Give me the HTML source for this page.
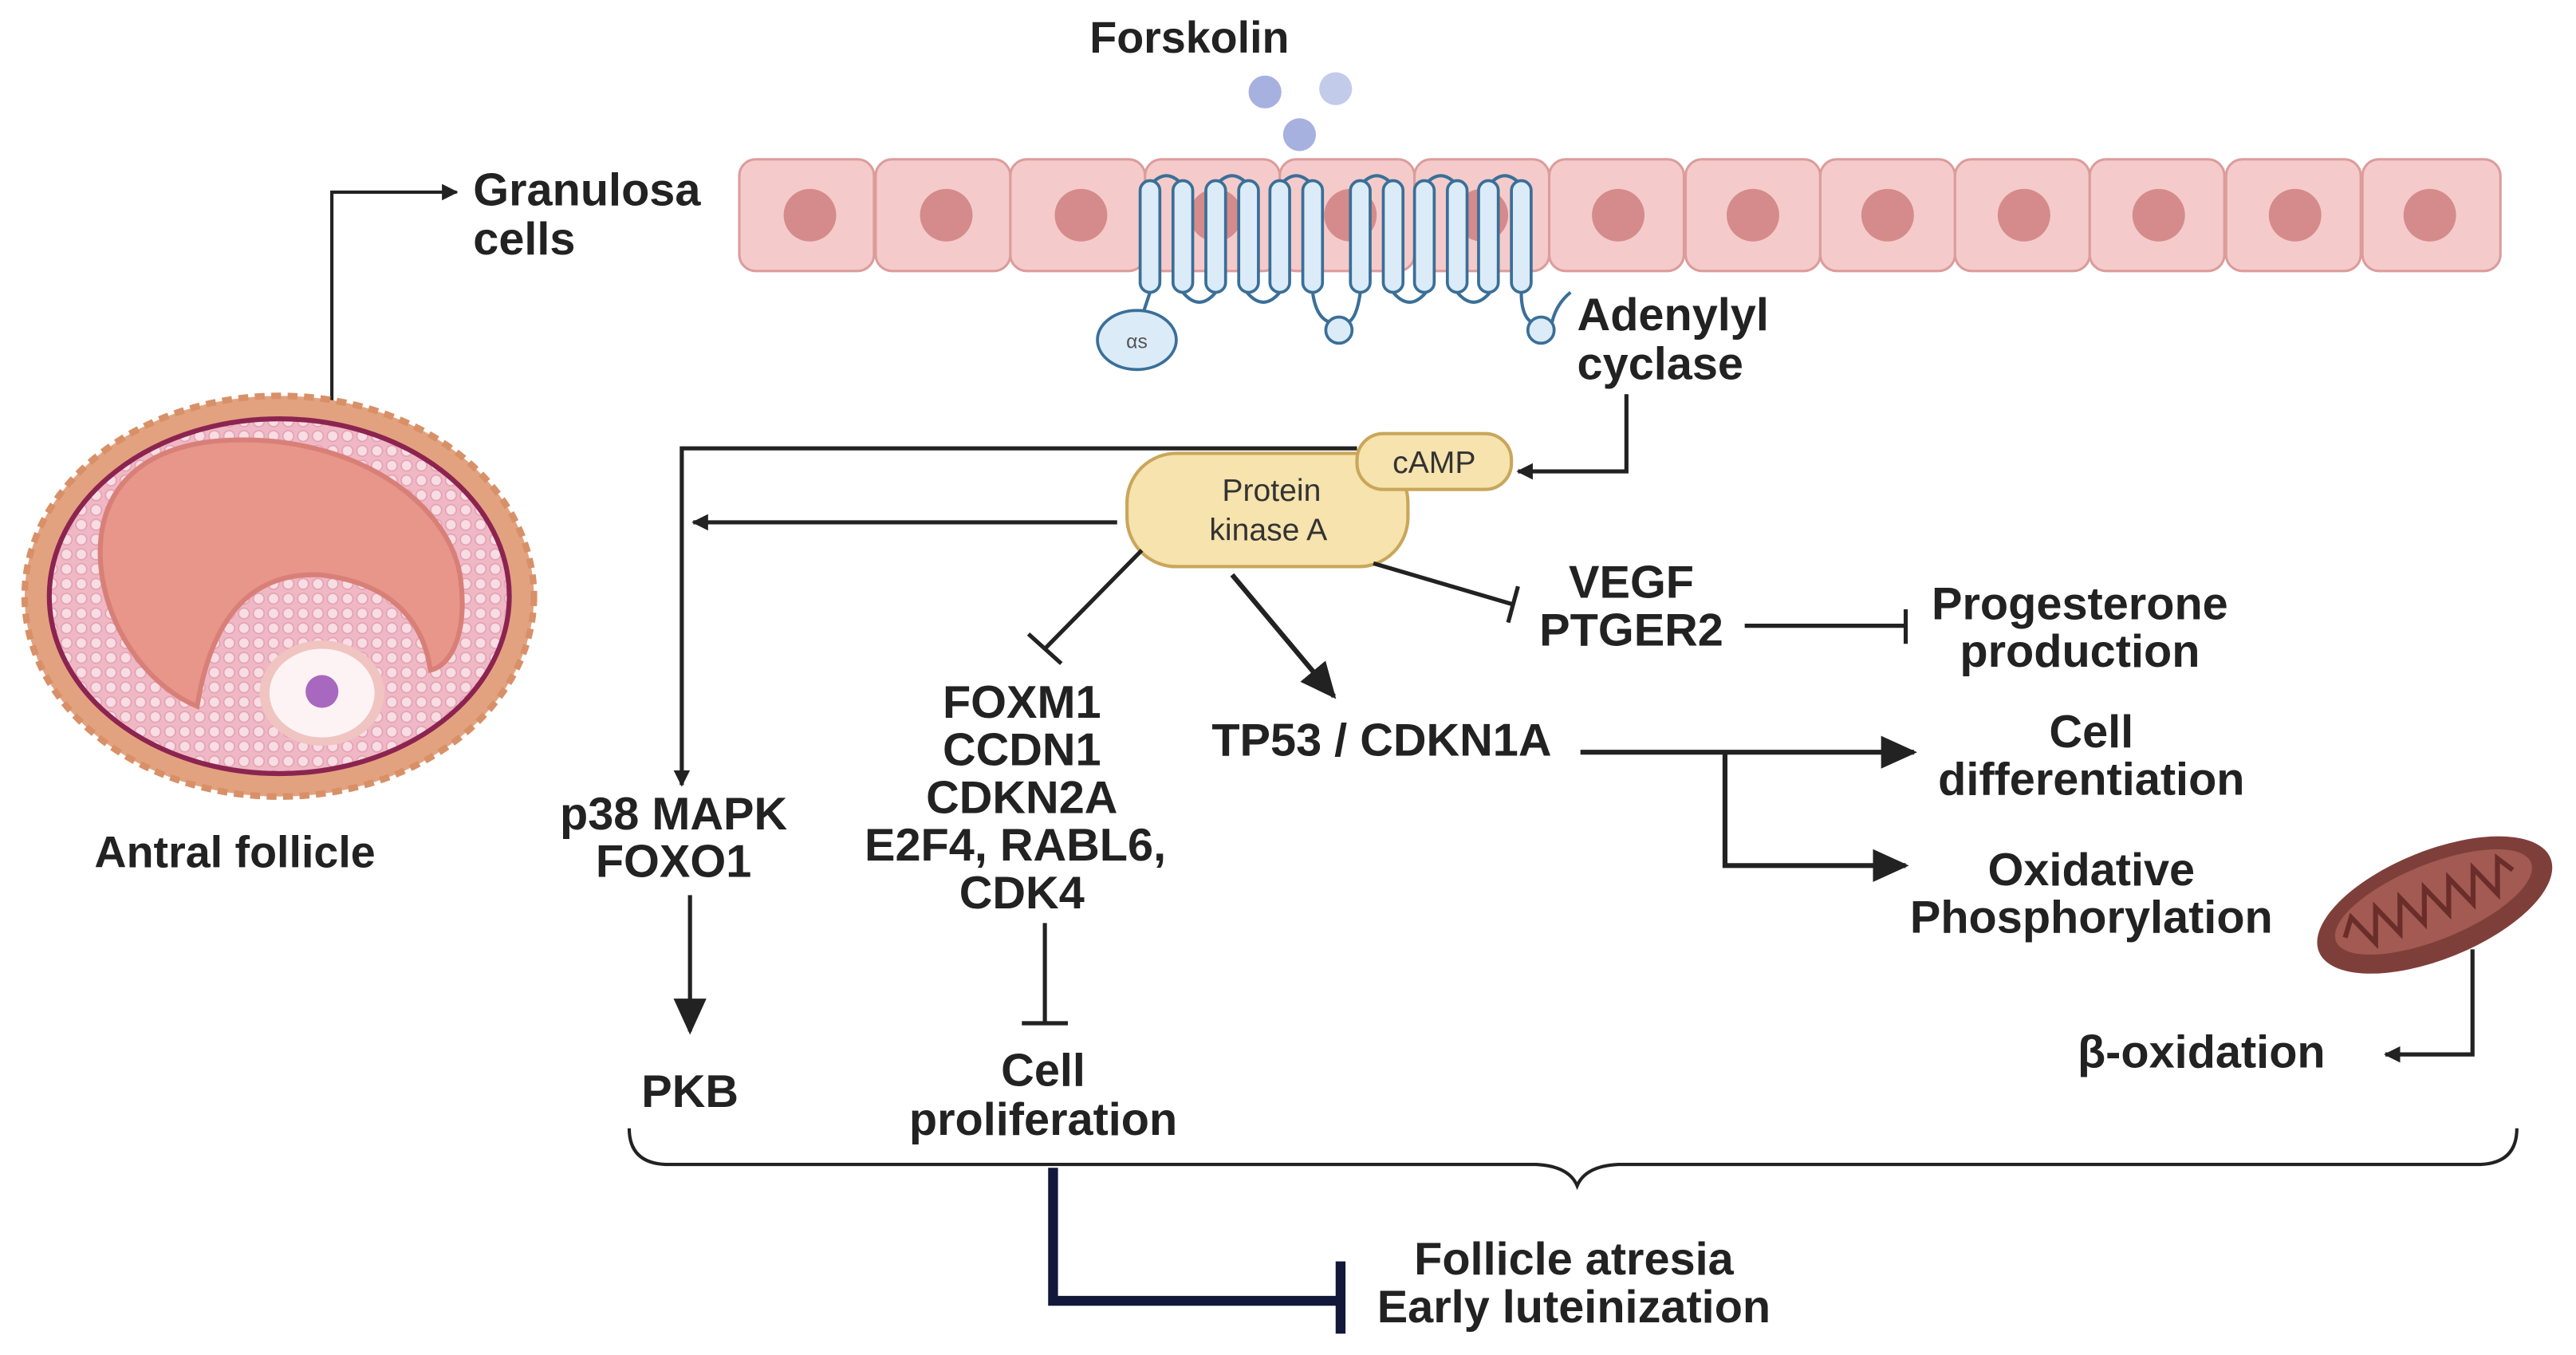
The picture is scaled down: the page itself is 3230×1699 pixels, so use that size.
<!DOCTYPE html>
<html><head><meta charset="utf-8">
<style>
html,body{margin:0;padding:0;background:#fff;}
svg{display:block;}
text{font-family:"Liberation Sans",sans-serif;font-weight:bold;fill:#222;font-size:28px;}
text.s{font-weight:normal;fill:#333;font-size:19px;}
</style></head>
<body>
<svg width="3230" height="1699" viewBox="0 0 1568 825" preserveAspectRatio="none" xmlns="http://www.w3.org/2000/svg">
<defs>
<marker id="ah" markerWidth="10" markerHeight="10" refX="9" refY="5" orient="auto" markerUnits="userSpaceOnUse"><path d="M0,0 L10,5 L0,10 z" fill="#222"/></marker>
<marker id="ahb" markerWidth="22" markerHeight="20" refX="20" refY="10" orient="auto" markerUnits="userSpaceOnUse"><path d="M0,0 L22,10 L0,20 z" fill="#222"/></marker>
<pattern id="dots" width="9" height="9" patternUnits="userSpaceOnUse"><rect width="9" height="9" fill="#efb8c4"/><circle cx="4.5" cy="4.5" r="3.3" fill="#f8dde4" stroke="#e3a1b3" stroke-width="0.8"/></pattern>
</defs>

<text x="724" y="32" text-anchor="middle" style="font-size:27px">Forskolin</text>
<circle cx="770" cy="56" r="10" fill="#a7b1e0"/>
<circle cx="813" cy="54" r="10" fill="#c3cbeb"/>
<circle cx="791" cy="82" r="10" fill="#a7b1e0"/>

<g fill="#f4cbca" stroke="#dc9c9c" stroke-width="1.5">
<rect x="450" y="97" width="82" height="68" rx="10"/>
<rect x="533" y="97" width="82" height="68" rx="10"/>
<rect x="615" y="97" width="82" height="68" rx="10"/>
<rect x="697" y="97" width="82" height="68" rx="10"/>
<rect x="779" y="97" width="82" height="68" rx="10"/>
<rect x="861" y="97" width="82" height="68" rx="10"/>
<rect x="943" y="97" width="82" height="68" rx="10"/>
<rect x="1026" y="97" width="82" height="68" rx="10"/>
<rect x="1108" y="97" width="82" height="68" rx="10"/>
<rect x="1190" y="97" width="82" height="68" rx="10"/>
<rect x="1272" y="97" width="82" height="68" rx="10"/>
<rect x="1355" y="97" width="82" height="68" rx="10"/>
<rect x="1438" y="97" width="84" height="68" rx="10"/>
</g>
<g fill="#d58b8b">
<circle cx="493" cy="131" r="16"/><circle cx="576" cy="131" r="16"/><circle cx="658" cy="131" r="16"/>
<circle cx="740" cy="131" r="16"/><circle cx="822" cy="131" r="16"/><circle cx="902" cy="131" r="16"/>
<circle cx="985" cy="131" r="16"/><circle cx="1067" cy="131" r="16"/><circle cx="1149" cy="131" r="16"/>
<circle cx="1232" cy="131" r="16"/><circle cx="1314" cy="131" r="16"/><circle cx="1397" cy="131" r="16"/><circle cx="1479" cy="131" r="16"/>
</g>

<g fill="none" stroke="#3a6f98" stroke-width="2">
<path d="M700,113 q10,-12 20,0 M740,113 q10,-12 20,0 M779,113 q10,-12 20,0 M828,113 q10,-12 20,0 M867,113 q10,-12 20,0 M906,113 q10,-12 20,0"/>
<path d="M720,178 q10,12 20,0 M759,178 q10,12 20,0 M848,178 q10,12 20,0 M887,178 q10,12 20,0"/>
<path d="M700,178 L694,196"/>
<path d="M799,178 q2,15 10,18 M828,178 q-2,15 -7,18"/>
<path d="M926,178 q0,14 6,18 M944,200 q2,-14 12,-22"/>
</g>
<g fill="#dcebf8" stroke="#3a6f98" stroke-width="1.8">
<rect x="694" y="110" width="12" height="68" rx="6"/><rect x="714" y="110" width="12" height="68" rx="6"/>
<rect x="734" y="110" width="12" height="68" rx="6"/><rect x="754" y="110" width="12" height="68" rx="6"/>
<rect x="773" y="110" width="12" height="68" rx="6"/><rect x="793" y="110" width="12" height="68" rx="6"/>
<rect x="822" y="110" width="12" height="68" rx="6"/><rect x="842" y="110" width="12" height="68" rx="6"/>
<rect x="861" y="110" width="12" height="68" rx="6"/><rect x="881" y="110" width="12" height="68" rx="6"/>
<rect x="900" y="110" width="12" height="68" rx="6"/><rect x="920" y="110" width="12" height="68" rx="6"/>
<ellipse cx="692" cy="207" rx="24" ry="18"/>
<circle cx="815" cy="201" r="8"/>
<circle cx="938" cy="201" r="8"/>
</g>
<text x="692" y="212" text-anchor="middle" class="s" style="font-size:12px;fill:#555">αs</text>

<text x="960" y="201">Adenylyl</text>
<text x="960" y="231">cyclase</text>

<text x="288" y="125">Granulosa</text>
<text x="288" y="155">cells</text>
<path d="M202,268 L202,117 L278,117" fill="none" stroke="#222" stroke-width="2" marker-end="url(#ah)"/>

<ellipse cx="170" cy="363" rx="155" ry="122" fill="#e3a27f" stroke="#d89068" stroke-width="4" stroke-dasharray="6 4"/>
<ellipse cx="170" cy="363" rx="140" ry="108" fill="url(#dots)" stroke="#8c2450" stroke-width="3"/>
<path d="M62,350 C55,300 85,270 140,268 C215,265 272,305 280,350 C285,385 275,405 262,408 C258,380 240,355 195,350 C150,348 128,380 120,430 C95,420 68,390 62,350 z" fill="#e8968a" stroke="#d88078" stroke-width="3"/>
<ellipse cx="196" cy="422" rx="38" ry="32" fill="#f0c4c0"/>
<ellipse cx="196" cy="422" rx="32" ry="27" fill="#fdf3f5"/>
<circle cx="196" cy="421" r="10" fill="#a868c0"/>
<text x="143" y="528" text-anchor="middle" style="font-size:27px">Antral follicle</text>

<rect x="686" y="276" width="171" height="69" rx="30" fill="#f6e3ad" stroke="#c9a65a" stroke-width="2"/>
<text x="774" y="305" text-anchor="middle" class="s">Protein</text>
<text x="772" y="329" text-anchor="middle" class="s">kinase A</text>
<rect x="826" y="264" width="94" height="34" rx="16" fill="#f6e3ad" stroke="#c9a65a" stroke-width="2"/>
<text x="873" y="288" text-anchor="middle" class="s">cAMP</text>

<g fill="none" stroke="#222" stroke-width="2.5">
<path d="M990,240 L990,287 L924,287" marker-end="url(#ah)"/>
<path d="M826,273 L415,273 L415,478" marker-end="url(#ah)"/>
<path d="M680,318 L422,318" marker-end="url(#ah)"/>
<path d="M695,335 L636,395"/><path d="M626,386 L646,404"/>
<path d="M750,350 L812,424" stroke-width="3" marker-end="url(#ahb)"/>
<path d="M836,343 L921,368"/><path d="M924,357 L918,379"/>
<path d="M1062,381 L1160,381"/><path d="M1160,371 L1160,392"/>
<path d="M636,562 L636,623"/><path d="M622,623 L650,623"/>
<path d="M420,545 L420,628" marker-end="url(#ahb)"/>
<path d="M962,458 L1165,458" stroke-width="3" marker-end="url(#ahb)"/>
<path d="M1050,458 L1050,527 L1160,527" stroke-width="3" marker-end="url(#ahb)"/>
<path d="M1505,578 L1505,642 L1452,642" marker-end="url(#ah)"/>
</g>

<text x="993" y="364" text-anchor="middle">VEGF</text>
<text x="993" y="393" text-anchor="middle">PTGER2</text>
<text x="1266" y="377" text-anchor="middle">Progesterone</text>
<text x="1266" y="406" text-anchor="middle">production</text>
<g text-anchor="middle">
<text x="622" y="437">FOXM1</text>
<text x="622" y="466">CCDN1</text>
<text x="622" y="495">CDKN2A</text>
<text x="618" y="524">E2F4, RABL6,</text>
<text x="622" y="553">CDK4</text>
<text x="635" y="661">Cell</text>
<text x="635" y="691">proliferation</text>
<text x="410" y="505">p38 MAPK</text>
<text x="410" y="534">FOXO1</text>
<text x="420" y="674">PKB</text>
<text x="841" y="460">TP53 / CDKN1A</text>
<text x="1273" y="455">Cell</text>
<text x="1273" y="484">differentiation</text>
<text x="1273" y="539">Oxidative</text>
<text x="1273" y="568">Phosphorylation</text>
<text x="1340" y="650">β-oxidation</text>
<text x="958" y="776">Follicle atresia</text>
<text x="958" y="805">Early luteinization</text>
</g>

<g transform="rotate(-22 1482 551)">
<ellipse cx="1482" cy="551" rx="76" ry="33" fill="#7e3f3a"/>
<ellipse cx="1482" cy="549" rx="64" ry="23" fill="#a25a52"/>
<path d="M1424,549 l8,-10 l8,20 l8,-20 l8,20 l8,-20 l8,20 l8,-20 l8,20 l8,-20 l8,20 l8,-20 l8,20 l8,-20 l6,10" fill="none" stroke="#6a2e2a" stroke-width="3"/>
</g>

<path d="M383,687 Q383,708 405,709 L935,709 Q955,710 960,722 Q965,710 985,709 L1510,709 Q1532,708 1532,687" fill="none" stroke="#222" stroke-width="2"/>

<path d="M641,711 L641,792 L814,792" fill="none" stroke="#12183a" stroke-width="6"/>
<path d="M816,768 L816,812" stroke="#12183a" stroke-width="6"/>
</svg>
</body></html>
